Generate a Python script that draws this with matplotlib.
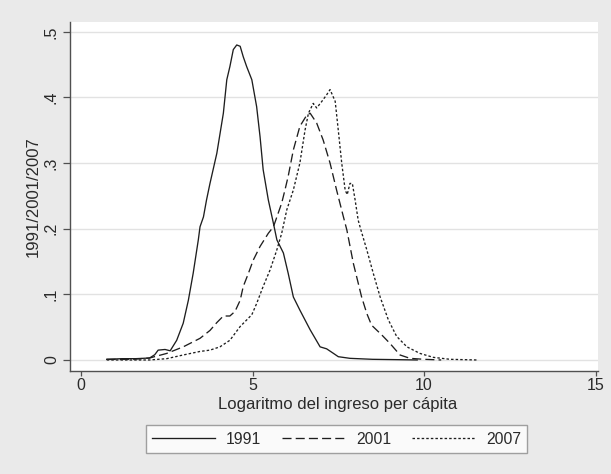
import matplotlib
matplotlib.use("Agg")
import matplotlib.pyplot as plt

# ---- data ----
x_1991 = [0.75, 1.2, 1.6, 2.0, 2.15, 2.25, 2.45, 2.6, 2.79, 2.98, 3.13, 3.27, 3.42, 3.47, 3.57,
          3.66, 3.76, 3.96, 4.15, 4.25, 4.34, 4.44, 4.54, 4.64, 4.73, 4.83, 4.98, 5.12, 5.22,
          5.31, 5.46, 5.61, 5.71, 5.90, 6.04, 6.19, 6.38, 6.68, 6.97, 7.16, 7.36, 7.5, 7.84,
          8.5, 9.2, 9.8]
y_1991 = [0.001, 0.002, 0.002, 0.003, 0.008, 0.015, 0.016, 0.014, 0.03, 0.056, 0.091, 0.132,
          0.183, 0.203, 0.218, 0.244, 0.269, 0.315, 0.376, 0.427, 0.447, 0.473, 0.48, 0.478,
          0.462, 0.447, 0.427, 0.386, 0.34, 0.29, 0.244, 0.208, 0.183, 0.163, 0.132, 0.096,
          0.076, 0.046, 0.02, 0.017, 0.01, 0.005, 0.0025, 0.001, 0.0005, 0.0]

x_2001 = [0.75, 1.5, 2.0, 2.5, 2.98, 3.47, 3.76, 3.96, 4.15, 4.34, 4.49, 4.64, 4.73, 4.88,
          5.02, 5.22, 5.46, 5.61, 5.71, 5.85, 5.95, 6.04, 6.19, 6.38, 6.58, 6.68, 6.87, 7.06,
          7.26, 7.45, 7.65, 7.75, 7.94, 8.18, 8.33, 8.47, 8.77, 9.01, 9.3, 9.59, 10.0, 10.5]
y_2001 = [0.001, 0.001, 0.003, 0.01, 0.02, 0.033, 0.045, 0.057, 0.067, 0.067, 0.074, 0.091,
          0.112, 0.132, 0.152, 0.173, 0.193, 0.203, 0.218, 0.239, 0.26, 0.28, 0.32, 0.356,
          0.373, 0.376, 0.361, 0.335, 0.3, 0.259, 0.218, 0.198, 0.147, 0.096, 0.071, 0.053,
          0.038, 0.025, 0.0076, 0.0025, 0.001, 0.0]

x_2007 = [0.75, 1.5, 2.0, 2.5, 2.98, 3.47, 3.76, 4.05, 4.34, 4.64, 4.83, 4.98, 5.12, 5.31,
          5.51, 5.71, 5.85, 6.0, 6.19, 6.38, 6.53, 6.63, 6.77, 6.87, 7.02, 7.16, 7.26, 7.41,
          7.5, 7.6, 7.7, 7.76, 7.84, 7.91, 7.99, 8.08, 8.16, 8.33, 8.52, 8.72, 8.96, 9.2, 9.5,
          9.88, 10.27, 10.76, 11.54]
y_2007 = [0.0, 0.0, 0.0, 0.002, 0.0076, 0.013, 0.015, 0.02, 0.03, 0.051, 0.061, 0.069, 0.086,
          0.112, 0.137, 0.168, 0.193, 0.229, 0.259, 0.3, 0.35, 0.376, 0.391, 0.384, 0.394,
          0.404, 0.412, 0.394, 0.35, 0.3, 0.259, 0.252, 0.269, 0.269, 0.244, 0.213, 0.198,
          0.168, 0.132, 0.096, 0.061, 0.036, 0.02, 0.01, 0.004, 0.001, 0.0]

series_labels = ["1991", "2001", "2007"]
x_ticks = [0, 5, 10, 15]
x_tick_labels = ["0", "5", "10", "15"]
y_ticks = [0, 0.1, 0.2, 0.3, 0.4, 0.5]
y_tick_labels = ["0", ".1", ".2", ".3", ".4", ".5"]

# ---- styling ----
plt.rcParams["font.family"] = ["Liberation Sans", "DejaVu Sans"]
plt.rcParams["lines.scale_dashes"] = False

W, H = 611, 474
fig = plt.figure(figsize=(W / 100, H / 100), dpi=100)
fig.patch.set_facecolor("#eaeaea")

left, right, top, bottom = 70, 598, 22, 371
ax = fig.add_axes([left / W, 1 - bottom / H, (right - left) / W, (bottom - top) / H])
ax.set_facecolor("white")

line_color = "#1e1e1e"
ax.plot(x_1991, y_1991, color=line_color, lw=0.95, label=series_labels[0])
ax.plot(x_2001, y_2001, color=line_color, lw=0.95, dashes=(6.5, 3.0), label=series_labels[1])
ax.plot(x_2007, y_2007, color=line_color, lw=0.95, dashes=(1.8, 1.5), label=series_labels[2])

ax.set_xlim(-0.32, 15.07)
ax.set_ylim(-0.0168, 0.515)

ax.set_xticks(x_ticks)
ax.set_xticklabels(x_tick_labels)
ax.set_yticks(y_ticks)
ax.set_yticklabels(y_tick_labels, rotation=90, va="center")

ax.grid(axis="y", color="#e2e2e2", lw=1.0)
ax.set_axisbelow(True)

for s in ["top", "right"]:
    ax.spines[s].set_visible(False)
for s in ["left", "bottom"]:
    ax.spines[s].set_color("#505050")
    ax.spines[s].set_linewidth(1.0)

ax.tick_params(axis="x", length=3.5, width=0.9, color="#505050", pad=1.5,
               labelsize=11.5, labelcolor="#2a2a2a")
ax.tick_params(axis="y", length=5, width=0.9, color="#505050", pad=3,
               labelsize=11.5, labelcolor="#2a2a2a")

ax.set_xlabel("Logaritmo del ingreso per cápita", fontsize=12, color="#2a2a2a", va="center")
ax.xaxis.set_label_coords(0.506, (bottom - 404) / (bottom - top))
ax.set_ylabel("1991/2001/2007", fontsize=12, color="#2a2a2a", va="center")
ax.yaxis.set_label_coords((33 - left) / (right - left), 0.5)

leg = ax.legend(loc="center", bbox_to_anchor=(336.5 / W, 1 - 439 / H),
                bbox_transform=fig.transFigure, ncol=3, fontsize=11.3,
                handlelength=4.0, handletextpad=0.7, columnspacing=1.35,
                borderpad=0.4, frameon=True, fancybox=False, borderaxespad=0)
leg.get_frame().set_edgecolor("#8a8a8a")
leg.get_frame().set_linewidth(1.0)
leg.get_frame().set_facecolor("white")
for t in leg.get_texts():
    t.set_color("#2a2a2a")

fig.savefig("out.png", dpi=100, facecolor=fig.get_facecolor())
